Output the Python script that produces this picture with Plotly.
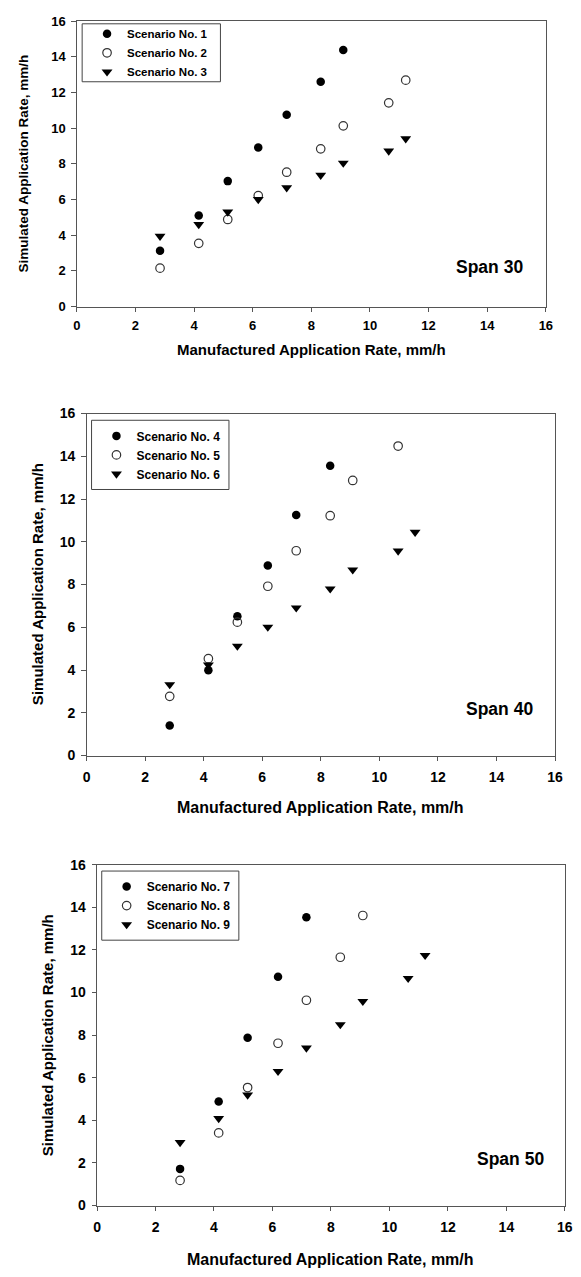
import plotly.graph_objects as go

W, H = 581, 1277
FONT = "Liberation Sans"

# ---------------- data ----------------
x_rate = [2.84, 4.16, 5.15, 6.19, 7.16, 8.32, 9.09, 10.64, 11.22]

# Span 30
scen1 = [3.13, 5.10, 7.03, 8.91, 10.75, 12.60, 14.38]
scen2 = [2.15, 3.54, 4.88, 6.22, 7.53, 8.84, 10.13, 11.42, 12.69]
scen3 = [3.94, 4.60, 5.30, 6.00, 6.66, 7.36, 8.04, 8.72, 9.41]

# Span 40
scen4 = [1.40, 3.99, 6.52, 8.89, 11.25, 13.56]
scen5 = [2.77, 4.53, 6.24, 7.92, 9.58, 11.22, 12.87, 14.48]
scen6 = [3.32, 4.24, 5.12, 6.01, 6.91, 7.80, 8.69, 9.57, 10.45]

# Span 50
scen7 = [1.72, 4.88, 7.88, 10.74, 13.54]
scen8 = [1.18, 3.41, 5.54, 7.62, 9.64, 11.66, 13.62]
scen9 = [2.96, 4.09, 5.19, 6.30, 7.40, 8.50, 9.59, 10.67, 11.75]

scenario_names = ["Scenario No. %d" % i for i in range(1, 10)]
span_labels = ["Span 30", "Span 40", "Span 50"]
tick_vals = [0, 2, 4, 6, 8, 10, 12, 14, 16]
x_title = "Manufactured Application Rate, mm/h"
y_title = "Simulated Application Rate, mm/h"

series = [[scen1, scen2, scen3], [scen4, scen5, scen6], [scen7, scen8, scen9]]

# ---------------- layout geometry (pixels) ----------------
panels = [
    dict(x0=74.3, x1=553.3, y0=13.3, y1=302.3, tick=13, xstand=2, ystand=3, xt=15, yt=13.5,
         xtitle_y=345.7, ytitle_x=20, leg=(79.8, 16.0, 221.0, 74.7), span=(496, 262.7),
         leg_font=11.5),
    dict(x0=84.3, x1=562.7, y0=410.7, y1=757.0, tick=14, xstand=4, ystand=3, xt=16, yt=15,
         xtitle_y=809.7, ytitle_x=34.3, leg=(89.4, 417.5, 229.7, 487.6), span=(506.3, 709.6),
         leg_font=12),
    dict(x0=95.0, x1=572.7, y0=867.7, y1=1212.7, tick=14, xstand=4, ystand=3, xt=16, yt=15,
         xtitle_y=1267, ytitle_x=44, leg=(99.8, 874.0, 239.8, 944.0), span=(517, 1166),
         leg_font=12),
]

def fx(px):
    return px / W

def fy(py):
    return 1 - py / H

AX = "#555555"
styles = [
    dict(symbol="circle", size=8.5, color="black", line=dict(color="black", width=0)),
    dict(symbol="circle-open", size=8.5, color="#333333", line=dict(width=1.2)),
    dict(symbol="triangle-down", size=9.5, color="black", line=dict(color="black", width=0)),
]

fig = go.Figure()
annotations = []
shapes = []
layout_extra = {}

for i, p in enumerate(panels):
    n = "" if i == 0 else str(i + 1)
    xa, ya = "x" + n, "y" + n
    leg_name = "legend" + n
    for k, vals in enumerate(series[i]):
        st = styles[k]
        fig.add_trace(go.Scatter(
            x=x_rate[:len(vals)], y=vals, mode="markers",
            name=scenario_names[3 * i + k],
            marker=dict(symbol=st["symbol"], size=st["size"], color=st["color"],
                        line=st["line"]),
            xaxis=xa, yaxis=ya, legend=leg_name, showlegend=True,
        ))
    common = dict(
        range=[0, 16], tickvals=tick_vals, ticks="outside", ticklen=4.5, tickwidth=1,
        tickcolor=AX, showline=True, linecolor=AX, linewidth=1, mirror=True,
        showgrid=False, zeroline=False,
        tickfont=dict(family=FONT, size=p["tick"], color="black", weight="bold"),
    )
    layout_extra["xaxis" + n] = dict(common, domain=[fx(p["x0"]), fx(p["x1"])], anchor=ya,
                                     ticklabelstandoff=p["xstand"])
    layout_extra["yaxis" + n] = dict(common, domain=[fy(p["y1"]), fy(p["y0"])], anchor=xa,
                                     ticklabelstandoff=p["ystand"])

    lx0, ly0, lx1, ly1 = p["leg"]
    shapes.append(dict(type="rect", xref="paper", yref="paper",
                       x0=fx(lx0), x1=fx(lx1), y0=fy(ly1), y1=fy(ly0),
                       line=dict(color="#444444", width=1), fillcolor="rgba(0,0,0,0)"))
    layout_extra[leg_name] = dict(
        x=fx(lx0 + 5), xanchor="left", y=fy((ly0 + ly1) / 2), yanchor="middle",
        bgcolor="rgba(0,0,0,0)", borderwidth=0,
        font=dict(family=FONT, size=p["leg_font"], color="black", weight="bold"),
        tracegroupgap=0,
    )

    annotations.append(dict(
        text=x_title, xref="paper", yref="paper",
        x=fx((p["x0"] + p["x1"]) / 2), y=fy(p["xtitle_y"]), xanchor="center", yanchor="middle",
        showarrow=False, font=dict(family=FONT, size=p["xt"], color="black", weight="bold")))
    annotations.append(dict(
        text=y_title, xref="paper", yref="paper", textangle=-90,
        x=fx(p["ytitle_x"]), y=fy((p["y0"] + p["y1"]) / 2), xanchor="center", yanchor="middle",
        showarrow=False, font=dict(family=FONT, size=p["yt"], color="black", weight="bold")))
    sx, sy = p["span"]
    annotations.append(dict(
        text=span_labels[i], xref="paper", yref="paper",
        x=fx(sx), y=fy(sy), xanchor="center", yanchor="middle",
        showarrow=False, font=dict(family=FONT, size=17.5, color="black", weight="bold")))

fig.update_layout(
    width=W, height=H, margin=dict(l=0, r=0, t=0, b=0),
    paper_bgcolor="white", plot_bgcolor="white",
    annotations=annotations, shapes=shapes, **layout_extra,
)

fig.write_html("out.html", config={"displayModeBar": False},
               post_script="document.body.style.margin='0';document.body.style.overflow='hidden';")
